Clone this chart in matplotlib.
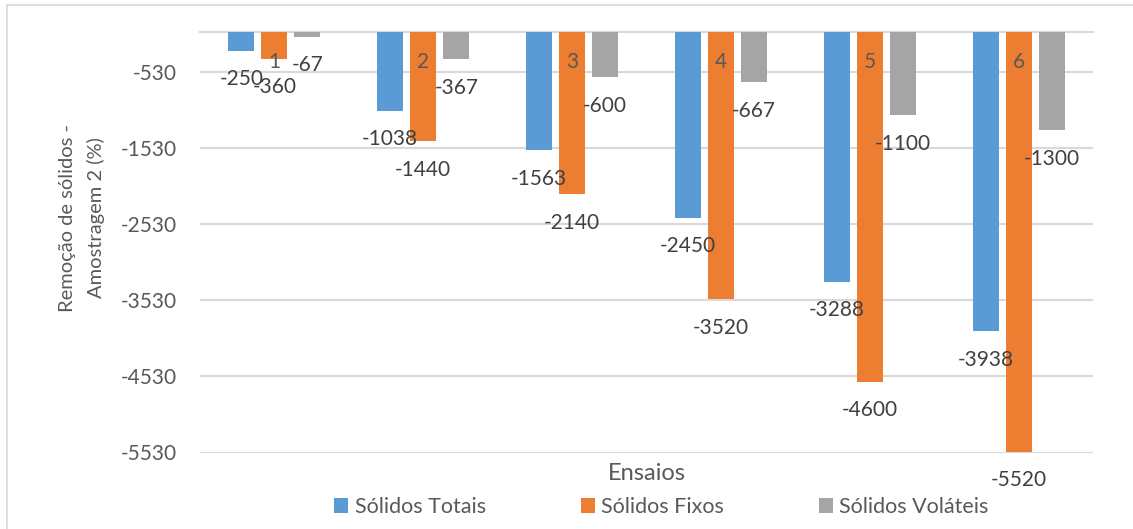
import numpy as np
import matplotlib.pyplot as plt
from matplotlib.lines import Line2D
from matplotlib.patches import Patch

plt.rcParams['font.family'] = ['Lato', 'DejaVu Sans']

# Solids removal per test run (sample 2)
ensaios = ['1', '2', '3', '4', '5', '6']
solidos_totais = [-250, -1038, -1563, -2450, -3288, -3938]
solidos_fixos = [-360, -1440, -2140, -3520, -4600, -5520]
solidos_volateis = [-67, -367, -600, -667, -1100, -1300]
series_names = ['Sólidos Totais', 'Sólidos Fixos', 'Sólidos Voláteis']
y_ticks = [-530, -1530, -2530, -3530, -4530, -5530]

colors = ['#5B9BD5', '#ED7D31', '#A5A5A5']
tick_color = '#595959'
label_color = '#404040'
grid_color = '#D9D9D9'

fig = plt.figure(figsize=(11.33, 5.29), dpi=100)
ax = fig.add_axes([200 / 1133, 1 - 452.5 / 529, 893 / 1133, 421 / 529])

x = np.arange(len(ensaios))
width = 0.175
step = 0.222

for k, (vals, c) in enumerate(zip([solidos_totais, solidos_fixos, solidos_volateis], colors)):
    pos = x + (k - 1) * step
    ax.bar(pos, vals, width=width, color=c, zorder=3)
    # value labels sit below the end of each bar
    for px, v in zip(pos, vals):
        ax.annotate(f'{v}', xy=(px, v), xytext=(0, -20.5), textcoords='offset points',
                    ha='center', va='center', fontsize=15, color=label_color, zorder=5)

# category labels hang just under the zero line
for px, lab in zip(x, ensaios):
    ax.annotate(lab, xy=(px, 0), xytext=(0, -22), textcoords='offset points',
                ha='center', va='center', fontsize=15, color=tick_color, zorder=4)

ax.set_xlim(-0.5, len(ensaios) - 0.5)
ax.set_ylim(-5530, 0)
ax.set_yticks(y_ticks)
ax.set_yticklabels([str(t) for t in y_ticks])
ax.set_xticks([])
ax.tick_params(axis='y', length=0, pad=17, labelsize=15, labelcolor=tick_color)
ax.grid(axis='y', color=grid_color, linewidth=1.5, zorder=0)
for side in ['left', 'right', 'bottom']:
    ax.spines[side].set_visible(False)
ax.spines['top'].set_color(grid_color)
ax.spines['top'].set_linewidth(1.5)

fig.text(82 / 1133, 1 - 218 / 529, 'Remoção de sólidos -\nAmostragem 2 (%)', rotation=90,
         ha='center', va='center', multialignment='center', fontsize=14.5,
         color=tick_color, linespacing=1.75)
fig.text(647 / 1133, 1 - 474 / 529, 'Ensaios', ha='center', va='center',
         fontsize=17, color=tick_color)

handles = [Patch(facecolor=c, edgecolor='none') for c in colors]
fig.legend(handles, series_names, loc='center', bbox_to_anchor=(661.5 / 1133, 1 - 507 / 529),
           ncol=3, frameon=False, fontsize=15.5, labelcolor=tick_color,
           handlelength=0.65, handleheight=0.65, handletextpad=0.3, columnspacing=4.4,
           borderpad=0, borderaxespad=0)

# chart area border
fig.add_artist(Line2D([7 / 1133, 7 / 1133], [0, 1 - 4.5 / 529], color=grid_color, linewidth=1.2))
fig.add_artist(Line2D([7 / 1133, 1], [1 - 4.5 / 529, 1 - 4.5 / 529], color=grid_color, linewidth=1.2))

fig.savefig('out.png', dpi=100, facecolor='white')
